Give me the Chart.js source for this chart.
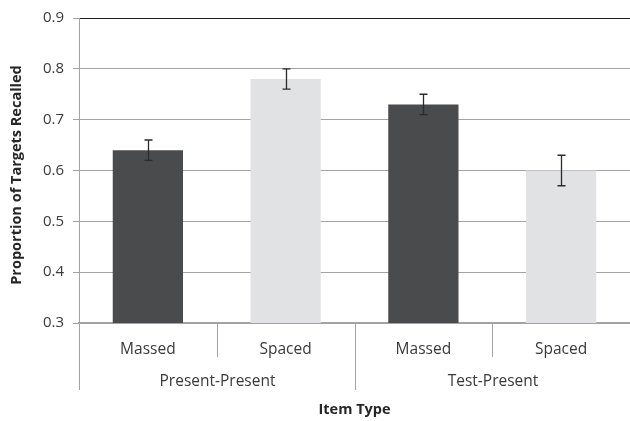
<!DOCTYPE html>
<html>
<head>
<meta charset="utf-8">
<script src="https://cdn.jsdelivr.net/npm/chart.js@4"></script>
<style>
html,body{margin:0;padding:0;background:#fff;overflow:hidden;}
canvas{display:block;}
</style>
</head>
<body>
<canvas id="c" width="630" height="421"></canvas>
<script>
const categories = ["Massed", "Spaced", "Massed", "Spaced"];
const groups = ["Present-Present", "Test-Present"];
const values = [0.64, 0.78, 0.73, 0.60];
const errors = [0.02, 0.02, 0.02, 0.03];
const yTicks = [0.3, 0.4, 0.5, 0.6, 0.7, 0.8, 0.9];
const yTitle = "Proportion of Targets Recalled";
const xTitle = "Item Type";

const FONT = "'Open Sans', sans-serif";
const TEXT = "#3a3a3a";
const GRID = "#a3a3a3";

const extras = {
  id: "extras",
  afterDatasetsDraw(chart) {
    const ctx = chart.ctx;
    const x = chart.scales.x, y = chart.scales.y;
    const area = chart.chartArea;
    ctx.save();
    // error bars
    ctx.strokeStyle = "#2b2b2b";
    ctx.lineWidth = 1.3;
    values.forEach((v, i) => {
      const cx = Math.round(x.getPixelForValue(i)) + 0.5;
      const yt = y.getPixelForValue(v + errors[i]);
      const yb = y.getPixelForValue(v - errors[i]);
      ctx.beginPath();
      ctx.moveTo(cx, yt); ctx.lineTo(cx, yb);
      ctx.moveTo(cx - 4, yt); ctx.lineTo(cx + 4, yt);
      ctx.moveTo(cx - 4, yb); ctx.lineTo(cx + 4, yb);
      ctx.stroke();
    });
    // left axis extension and dividers
    ctx.strokeStyle = GRID;
    ctx.lineWidth = 1;
    const step = (x.getPixelForValue(1) - x.getPixelForValue(0));
    const bound = i => Math.round(x.getPixelForValue(0) - step / 2 + i * step) + 0.5;
    ctx.beginPath();
    ctx.moveTo(bound(0), area.bottom); ctx.lineTo(bound(0), 390);
    ctx.moveTo(bound(1), area.bottom); ctx.lineTo(bound(1), 357);
    ctx.moveTo(bound(2), area.bottom); ctx.lineTo(bound(2), 390);
    ctx.moveTo(bound(3), area.bottom); ctx.lineTo(bound(3), 357);
    ctx.stroke();
    // group labels
    ctx.fillStyle = TEXT;
    ctx.font = "15.5px " + FONT;
    ctx.textAlign = "center";
    ctx.textBaseline = "middle";
    groups.forEach((g, gi) => {
      const cx = (bound(gi * 2) + bound(gi * 2 + 2)) / 2;
      ctx.fillText(g, cx, 382);
    });
    // x title
    ctx.font = "bold 14.5px " + FONT;
    ctx.fillStyle = "#262626";
    ctx.fillText(xTitle, (area.left + area.right) / 2, 410);
    // y title
    ctx.translate(17, 175);
    ctx.rotate(-Math.PI / 2);
    ctx.fillText(yTitle, 0, 0);
    ctx.restore();
  }
};

new Chart(document.getElementById("c"), {
  type: "bar",
  data: {
    labels: categories,
    datasets: [{
      data: values,
      backgroundColor: ["#4a4b4d", "#e1e2e4", "#4a4b4d", "#e1e2e4"],
      borderWidth: 0,
      barPercentage: 0.51,
      categoryPercentage: 1.0
    }]
  },
  options: {
    responsive: false,
    animation: false,
    devicePixelRatio: 1,
    layout: { padding: { top: 17, right: 0, left: 0, bottom: 0 } },
    plugins: { legend: { display: false }, tooltip: { enabled: false } },
    scales: {
      x: {
        grid: { display: false },
        border: { color: GRID, width: 2 },
        ticks: { color: TEXT, font: { family: FONT, size: 15.5 }, padding: 9, maxRotation: 0 },
        afterFit(s) { s.height = 98; }
      },
      y: {
        min: 0.3, max: 0.9,
        afterBuildTicks(s) { s.ticks = yTicks.map(v => ({ value: v })); },
        grid: {
          color: ctx => (ctx.tick && ctx.tick.value === 0.9) ? "#1e1e1e" : GRID,
          tickColor: GRID,
          tickLength: 6,
          lineWidth: 1
        },
        border: { color: GRID, width: 1 },
        ticks: {
          color: TEXT, font: { family: FONT, size: 15 }, padding: 9,
          callback: v => Number(v).toFixed(1)
        },
        afterFit(s) { s.width = 79; }
      }
    }
  },
  plugins: [extras]
});
</script>
</body>
</html>
